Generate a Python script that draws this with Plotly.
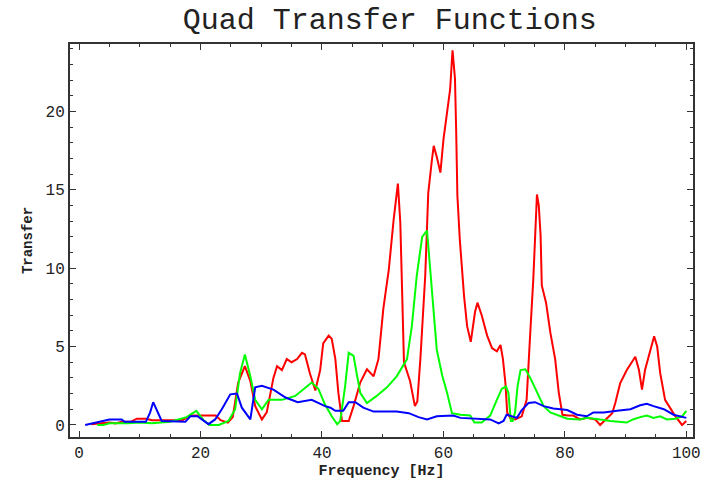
import plotly.graph_objects as go

# ---- data ----
red_freq = [2, 3.5, 5, 6, 7, 8.5, 9.5, 11, 12, 15, 17, 18.3, 22.5, 23.3, 24.5, 25.3,
            26.2, 27.3, 28.2, 29, 30.1, 30.9, 32, 32.6, 33.4, 34.2, 35, 35.9, 36.7, 37.2,
            38, 38.9, 39.7, 40.2, 41.1, 41.6, 42.2, 42.7, 43.3, 44.4, 45.2, 46.3, 47.4,
            48.5, 49.3, 50.1, 51, 51.8, 52.5, 52.9, 53.2, 53.5, 54.5, 55.3, 55.7, 56.2,
            57, 57.5, 58.1, 58.4, 58.9, 59.5, 60, 60.6, 61.1, 61.5, 61.9, 62.1, 62.3,
            62.7, 63, 63.4, 63.9, 64.5, 65.2, 65.6, 66.3, 67.2, 68, 68.8, 69.4, 69.8,
            70.2, 70.5, 71, 71.8, 72.9, 73.7, 74.3, 74.8, 75.4, 75.7, 76, 76.2, 76.9,
            77.6, 78.4, 79, 79.6, 80.5, 81.4, 82.5, 83.6, 85, 85.8, 86.7, 87.8, 88.3,
            89.1, 90.2, 91.1, 91.6, 92.2, 92.7, 93.2, 94.1, 94.7, 95.2, 95.7, 96.5,
            97.4, 98.2, 99.3, 100]
red_vals = [0.05, 0.1, 0.15, 0.1, 0.2, 0.2, 0.4, 0.4, 0.3, 0.3, 0.3, 0.6, 0.6, 0.3, 0.15, 0.5,
            2.7, 3.75, 2.8, 1.2, 0.35, 0.8, 3.0, 3.75, 3.5, 4.2, 4.0, 4.2, 4.6, 4.5,
            3.3, 2.2, 3.5, 5.2, 5.7, 5.5, 4.2, 2.05, 0.25, 0.25, 1.2, 2.7, 3.55,
            3.1, 4.2, 7.4, 9.9, 13.1, 15.4, 12.9, 8.4, 4.0, 2.8, 1.2, 1.5, 4.2,
            9.5, 14.8, 16.9, 17.8, 17.1, 16.1, 18.2, 19.9, 21.4, 23.9, 22.1, 18.7, 14.6,
            11.8, 10.0, 8.2, 6.3, 5.3, 7.2, 7.8, 7.0, 5.7, 4.9, 4.7, 5.1, 4.2,
            2.7, 0.8, 0.45, 0.35, 0.55, 1.6, 5.9, 9.3, 14.7, 14.0, 12.1, 8.9, 7.8,
            5.9, 4.2, 2.05, 0.65, 0.6, 0.6, 0.35, 0.45, 0.35, 0.0, 0.35, 0.75, 1.4,
            2.65, 3.5, 4.0, 4.35, 3.5, 2.25, 3.5, 4.8, 5.65, 5.0, 3.3, 1.6,
            1.0, 0.55, 0.0, 0.25]

green_freq = [3, 4, 5, 8, 10, 12, 15, 17.7, 19.3, 20.5, 21.5, 23, 24.6, 25.7, 26.5, 27.3,
              28.2, 29, 30.1, 31.2, 33.4, 35.6, 37.2, 38.3, 39.4, 40.5, 41.6, 42.5, 43,
              43.8, 44.4, 45.2, 45.7, 46.3, 47.4, 49, 50.7, 52.3, 54, 54.8, 55.6, 56.5,
              57.3, 57.8, 58.4, 58.9, 59.8, 60.6, 61.4, 62.8, 64.4, 65.1, 66.3, 67.7,
              68.8, 69.6, 70.3, 70.7, 71.1, 71.4, 71.8, 72.2, 72.7, 73.5, 74.3, 75.4,
              76.5, 77.6, 79, 80.4, 82.5, 83.6, 85.8, 87.5, 90.2, 91.2, 92.4, 93.5,
              94.6, 95.7, 96.8, 98.2, 99.3, 100]
green_vals = [0, 0, 0.1, 0.1, 0.15, 0.1, 0.2, 0.5, 0.9, 0.3, 0, 0, 0.25, 1.0, 3.3, 4.5,
              3.1, 1.6, 1.0, 1.6, 1.6, 1.85, 2.35, 2.7, 2.3, 1.3, 0.55, 0.05, 0.25,
              2.45, 4.6, 4.4, 3.3, 2.05, 1.4, 1.85, 2.4, 3.1, 4.2, 6.3, 9.5, 12.0,
              12.4, 9.9, 7.1, 4.8, 3.15, 2.05, 0.75, 0.65, 0.6, 0.15, 0.15, 0.6,
              1.6, 2.3, 2.45, 2.05, 0.25, 0.25, 0.8, 2.45, 3.5, 3.55, 3.0, 2.05,
              1.2, 0.8, 0.6, 0.4, 0.35, 0.45, 0.35, 0.25, 0.15, 0.35, 0.5, 0.6,
              0.45, 0.55, 0.35, 0.4, 0.55, 0.9]

blue_freq = [1, 2.6, 3.5, 5, 7, 7.5, 11, 11.7, 12.2, 12.9, 13.6, 17.5, 18.3, 19.5, 20.5,
             21.3, 22.4, 23.5, 24.9, 26, 26.8, 28.2, 29, 30.1, 32, 34, 36, 38.3, 40.5,
             41.4, 42.2, 43.5, 44.4, 45.5, 46.8, 48.5, 52.3, 54.3, 55.9, 57.3, 58.9,
             61.6, 62.8, 65, 67.7, 69.1, 69.9, 70.4, 71.2, 72.1, 72.9, 74, 75.1, 76.5,
             78.1, 80.4, 82, 83.6, 84.7, 86.4, 88.6, 90.8, 92.4, 93.5, 94.6, 96.3,
             97.9, 99.3, 100]
blue_vals = [0, 0.15, 0.2, 0.35, 0.35, 0.2, 0.2, 0.8, 1.45, 0.8, 0.25, 0.2, 0.55, 0.55, 0.3,
             0.05, 0.35, 1.0, 1.95, 2.0, 1.1, 0.35, 2.4, 2.5, 2.25, 1.75, 1.45, 1.6, 1.2,
             1.1, 0.9, 0.9, 1.45, 1.45, 1.1, 0.85, 0.85, 0.75, 0.5, 0.35, 0.55,
             0.6, 0.45, 0.4, 0.35, 0.1, 0.25, 0.65, 0.55, 0.45, 0.95, 1.4, 1.45, 1.2,
             1.05, 0.95, 0.65, 0.55, 0.8, 0.8, 0.9, 1.0, 1.25, 1.35, 1.2, 1.0,
             0.65, 0.5, 0.45]

x_ticks = [0, 20, 40, 60, 80, 100]
y_ticks = [0, 5, 10, 15, 20]

MONO = "Liberation Mono, Courier New, monospace"

fig = go.Figure()
for fr, vals, col in [(red_freq, red_vals, "#ff0000"),
                      (green_freq, green_vals, "#00ff00"),
                      (blue_freq, blue_vals, "#0000ff")]:
    fig.add_trace(go.Scatter(x=fr, y=vals, mode="lines",
                             line=dict(color=col, width=2), showlegend=False))

axis_common = dict(
    showgrid=False, zeroline=False, showline=True, linecolor="#333333", linewidth=2,
    mirror="allticks", ticks="inside", ticklen=6, tickwidth=1, tickcolor="#333333",
    tickfont=dict(family=MONO, size=16, color="#222222"), automargin=False,
)

fig.update_xaxes(
    **axis_common, range=[-1.5, 101.1], tickvals=x_ticks,
    ticktext=[str(v) for v in x_ticks],
    minor=dict(dtick=5, tick0=0, ticks="inside", ticklen=3, tickcolor="#333333", showgrid=False),
    title=dict(text="<b>Frequency [Hz]</b>", font=dict(family=MONO, size=15, color="#222222"),
               standoff=2),
)
fig.update_yaxes(
    **axis_common, range=[-0.77, 24.3], tickvals=y_ticks,
    ticktext=[str(v) for v in y_ticks],
    minor=dict(dtick=1, tick0=0, ticks="inside", ticklen=3, tickcolor="#333333", showgrid=False),
    title=dict(text="<b>Transfer</b>", font=dict(family=MONO, size=14, color="#222222"),
               standoff=10),
)

fig.update_layout(
    width=706, height=480,
    margin=dict(l=70, r=13, t=44, b=43),
    paper_bgcolor="white", plot_bgcolor="white",
    title=dict(text="Quad Transfer Functions", x=0.552, xref="container", xanchor="center",
               y=1 - 18 / 480, yref="container", yanchor="middle",
               font=dict(family=MONO, size=30, color="#222222")),
)

fig.write_html("out.html")
